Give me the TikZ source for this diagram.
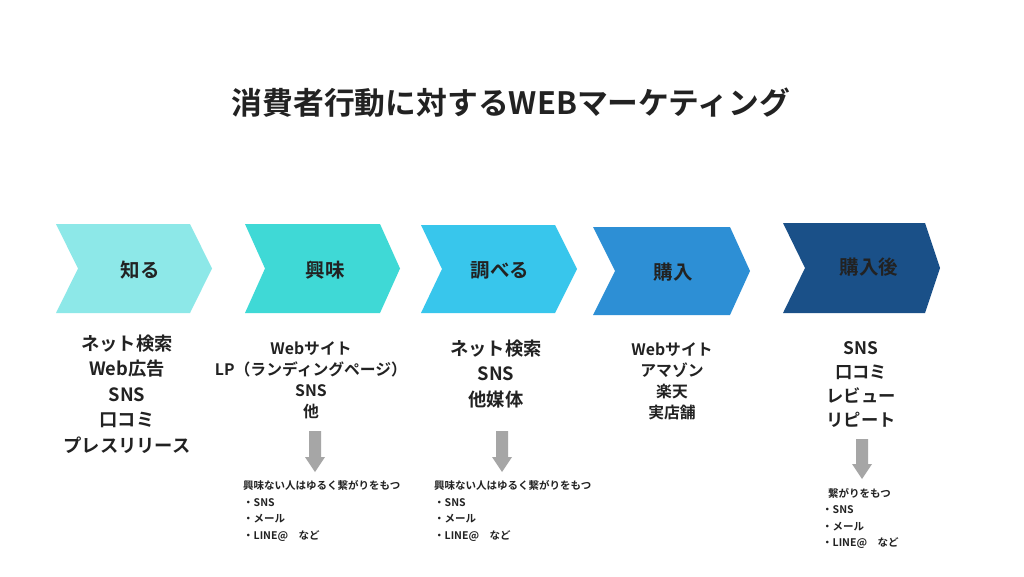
\documentclass[tikz,border=0pt]{standalone}
\usepackage{fontspec}
\setmainfont{Noto Sans CJK JP}[BoldFont={* Bold}]
\newfontfamily\jpb{Noto Sans CJK JP Bold}
\definecolor{txt}{HTML}{222222}
\definecolor{cA}{HTML}{8DE8E8}
\definecolor{cB}{HTML}{3FD9D6}
\definecolor{cC}{HTML}{38C6EC}
\definecolor{cD}{HTML}{2D8FD5}
\definecolor{cE}{HTML}{1A5088}
\definecolor{arrg}{HTML}{A6A6A6}
\newcommand{\chevshape}[7]{% left notch topright tip top bottom color
  \fill[#7] (#1,#5) -- (#3,#5) -- (#4,{(#5+#6)/2}) -- (#3,#6) -- (#1,#6) -- (#2,{(#5+#6)/2}) -- cycle;}
\newcommand{\downarr}[3]{% x ytop ytip
  \fill[arrg] ({#1-6},#2) -- ({#1+6},#2) -- ({#1+6},{#3-15}) -- ({#1+10},{#3-15}) -- (#1,#3) -- ({#1-10},{#3-15}) -- ({#1-6},{#3-15}) -- cycle;}
\tikzset{
  lab/.style={font=\jpb\fontsize{19.5}{19.5}\selectfont, text=txt, inner sep=0pt},
  colbig/.style={font=\jpb\fontsize{18.3}{25.5}\selectfont, text=txt, align=center, inner sep=0pt},
  colsmall/.style={font=\jpb\fontsize{15.8}{21.2}\selectfont, text=txt, align=center, inner sep=0pt},
  colmid/.style={font=\jpb\fontsize{17.3}{24}\selectfont, text=txt, align=center, inner sep=0pt},
  note/.style={font=\jpb\fontsize{10.5}{16.5}\selectfont, text=txt, align=left, inner sep=0pt, anchor=north west},
}
\begin{document}
\begin{tikzpicture}[x=1pt,y=-1pt]
\useasboundingbox (0,0) rectangle (1024,576);
\fill[white] (0,0) rectangle (1024,576);
\node[font=\jpb\fontsize{30.8}{30.8}\selectfont, text=txt, inner sep=0pt] (title) at (511,103) {消費者行動に対するWEBマーケティング};
% chevrons
\chevshape{56}{78}{190}{212}{224}{313}{cA}
\chevshape{245}{265}{380}{400}{224}{313}{cB}
\chevshape{421}{442}{555}{577}{225}{313}{cC}
\chevshape{593}{615}{730}{750}{227}{315}{cD}
\chevshape{783}{805}{925}{940}{223}{313}{cE}
\node[lab] (l1) at (140,270) {知る};
\node[lab] (l2) at (325,270) {興味};
\node[lab] (l3) at (500,270) {調べる};
\node[lab] (l4) at (673,272) {購入};
\node[lab] (l5) at (869,267) {購入後};
% columns
\node[colbig, anchor=north] (c1) at (127,334.5) {ネット検索\\Web広告\\SNS\\口コミ\\プレスリリース};
\node[colsmall, anchor=north] (c2) at (311,341) {Webサイト\\LP（ランディングページ）\\SNS\\他};
\node[colbig, anchor=north] (c3) at (496,339.5) {ネット検索\\SNS\\他媒体};
\node[colsmall, anchor=north] (c4) at (672,342) {Webサイト\\アマゾン\\楽天\\実店舗};
\node[colmid, anchor=north] (c5) at (861,341.5) {SNS\\口コミ\\レビュー\\リピート};
% arrows
\downarr{315}{431}{472}
\downarr{502}{431}{472}
\downarr{862}{439}{479}
% notes
\node[note] (n1) at (243,480.5) {興味ない人はゆるく繋がりをもつ\\・SNS\\・メール\\・LINE@\quad など};
\node[note] (n2) at (434,480.5) {興味ない人はゆるく繋がりをもつ\\・SNS\\・メール\\・LINE@\quad など};
\node[note] (n3) at (822,488) {\hspace*{6pt}繋がりをもつ\\・SNS\\・メール\\・LINE@\quad など};
\end{tikzpicture}
\end{document}
